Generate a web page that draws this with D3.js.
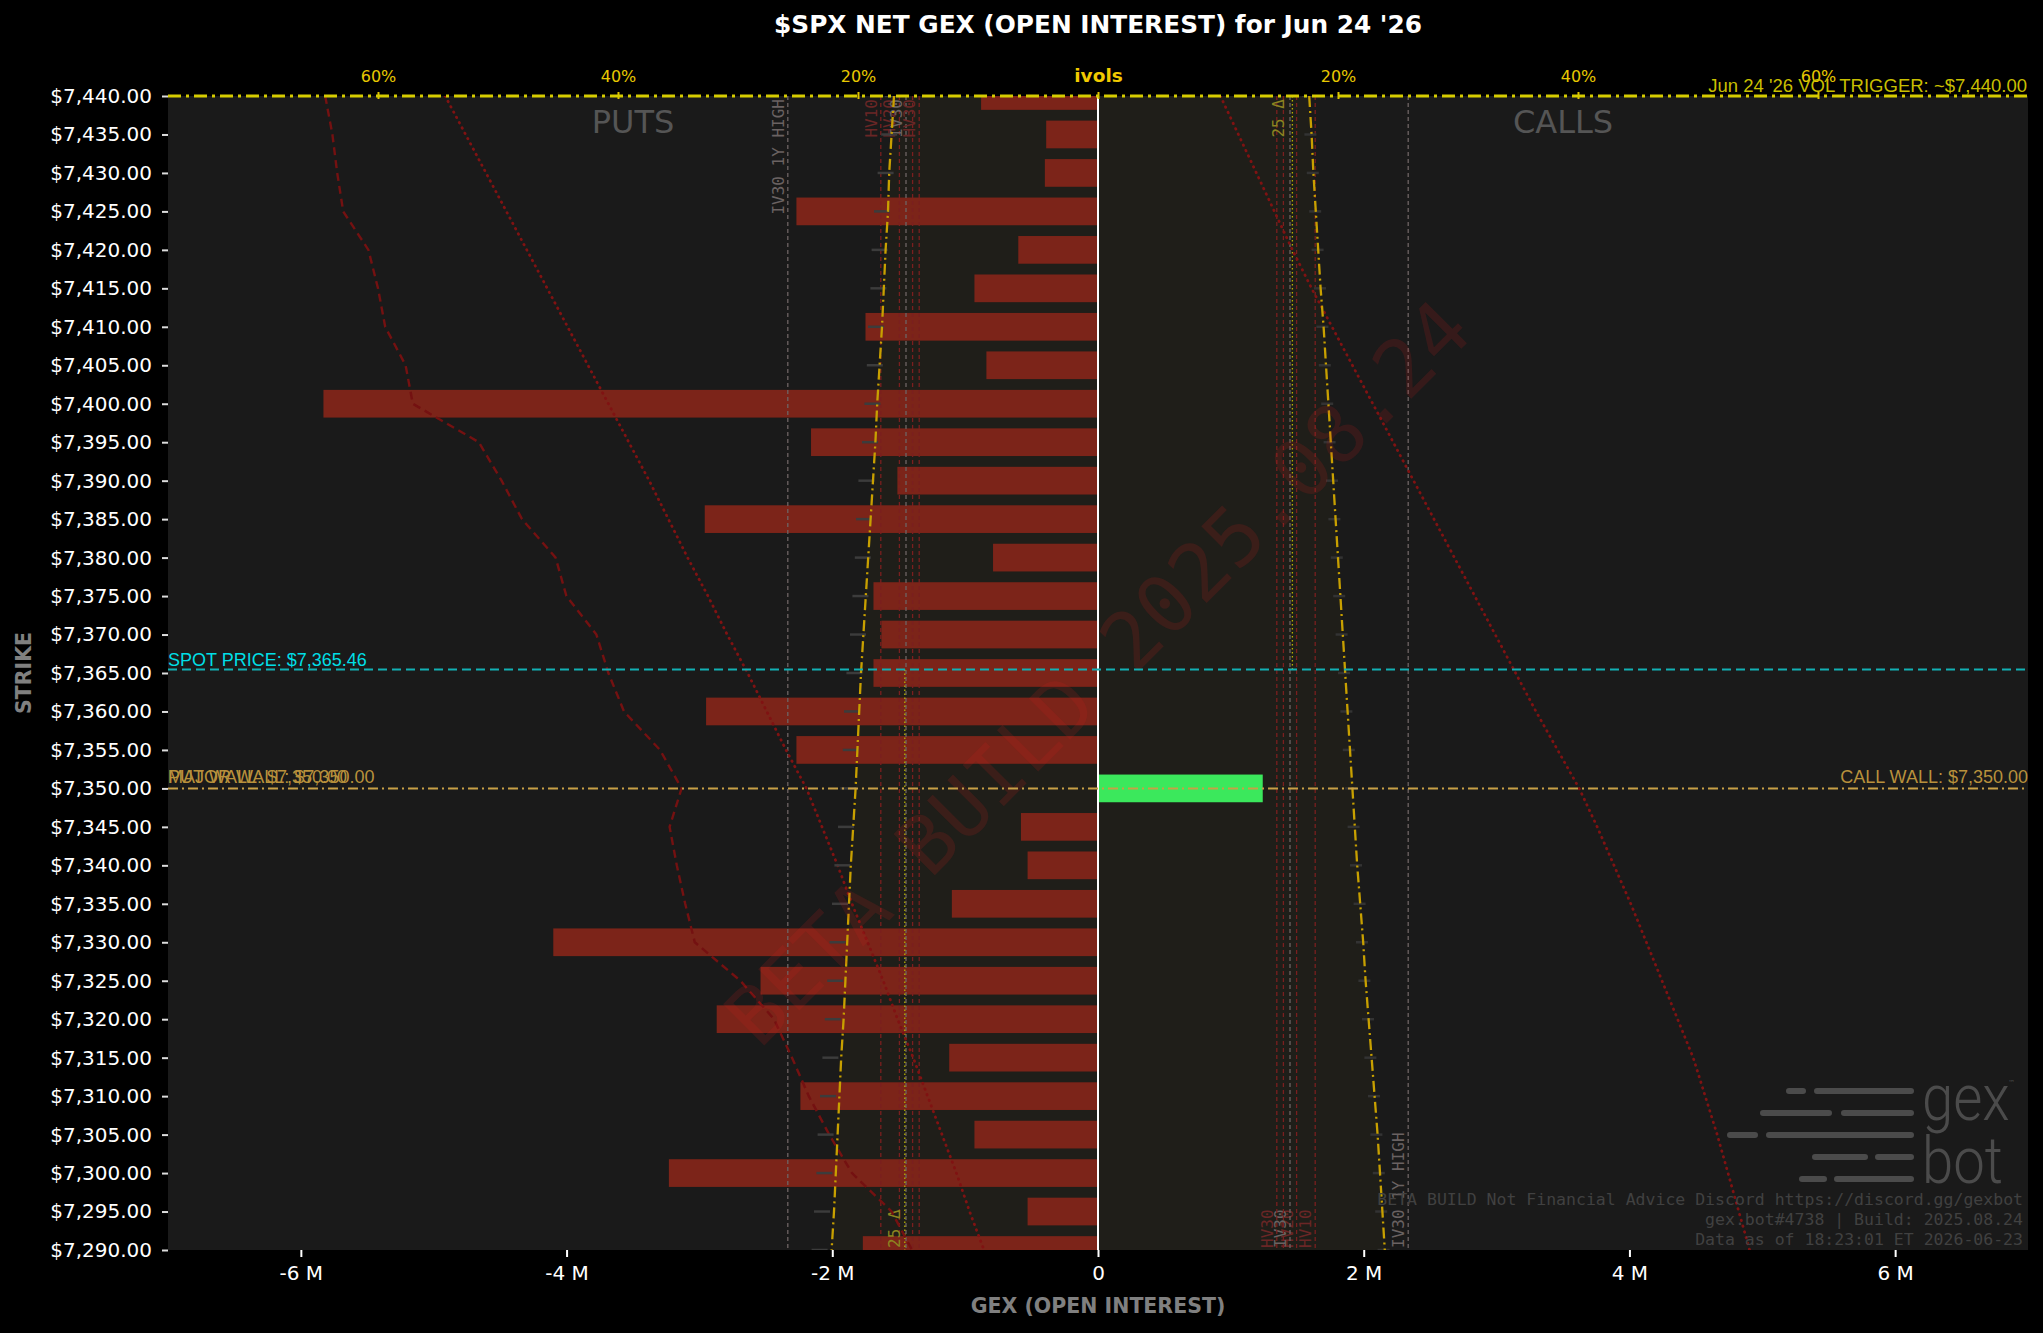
<!DOCTYPE html>
<html>
<head>
<meta charset="utf-8">
<script src="https://cdn.jsdelivr.net/npm/d3@7"></script>
<style>
  body { margin: 0; background: #000; }
  svg { display: block; }
</style>
</head>
<body>
<script>
'use strict';

// strikes, top to bottom
const strikes = [7440, 7435, 7430, 7425, 7420, 7415, 7410, 7405, 7400, 7395, 7390,
  7385, 7380, 7375, 7370, 7365, 7360, 7355, 7350, 7345, 7340, 7335, 7330, 7325,
  7320, 7315, 7310, 7305, 7300, 7295, 7290];

// net gex per strike, millions
const netGex = [-0.88, -0.39, -0.40, -2.27, -0.60, -0.93, -1.75, -0.84, -5.83, -2.16, -1.51,
  -2.96, -0.79, -1.69, -1.63, -1.69, -2.95, -2.27, 1.24, -0.58, -0.53, -1.10, -4.10, -2.54,
  -2.87, -1.12, -2.24, -0.93, -3.23, -0.53, -1.77];

// implied vols (%) per strike
const putIvol = [17.0, 17.2, 17.4, 17.5, 17.7, 17.85, 18.0, 18.2, 18.4, 18.55, 18.75,
  18.95, 19.15, 19.35, 19.55, 19.75, 19.9, 20.05, 20.2, 20.4, 20.6, 20.75, 20.9, 21.05,
  21.2, 21.4, 21.55, 21.7, 21.85, 22.0, 22.2];
const callIvol = [17.6, 17.8, 17.95, 18.15, 18.35, 18.55, 18.8, 19.0, 19.2, 19.4, 19.6,
  19.8, 20.0, 20.2, 20.4, 20.6, 20.8, 21.0, 21.2, 21.4, 21.6, 21.85, 22.1, 22.3,
  22.55, 22.8, 23.05, 23.3, 23.5, 23.7, 23.9];
const putIvolMarks = [17.1, 17.4, 17.7, 18.0, 18.2, 18.3, 18.5, 18.6, 18.8, 19.0, 19.3,
  19.5, 19.6, 19.8, 20.0, 20.3, 20.5, 20.6, 20.8, 21.0, 21.3, 21.5, 21.7, 21.9,
  22.1, 22.3, 22.5, 22.7, 22.8, 23.0, 23.2];
const callIvolMarks = [17.5, 17.7, 17.9, 18.1, 18.3, 18.5, 18.7, 18.9, 19.1, 19.3, 19.5,
  19.7, 19.9, 20.1, 20.3, 20.5, 20.7, 20.9, 21.1, 21.3, 21.5, 21.8, 22.0, 22.2,
  22.5, 22.7, 23.0, 23.2, 23.4, 23.6, 23.8];
const putShortIvol = [64.4, 63.8, 63.4, 62.9, 60.8, 60.0, 59.4, 57.7, 57.1, 51.6, 49.7,
  48.0, 45.2, 44.3, 41.8, 40.8, 39.5, 36.5, 34.7, 35.7, 35.1, 34.4, 33.6, 29.8,
  27.0, 25.5, 24.1, 22.4, 20.5, 17.2, 15.5];
const putSkew = [54.4, 52.7, 51.0, 49.3, 47.6, 45.9, 44.2, 42.5, 40.8, 39.1, 37.4,
  35.8, 34.2, 32.5, 30.9, 29.2, 27.6, 26.0, 24.3, 23.0, 21.7, 20.5, 19.2, 17.9,
  16.7, 15.4, 14.2, 13.0, 11.8, 10.7, 9.5];
const callSkew = [10.2, 11.7, 13.2, 14.7, 16.2, 17.8, 19.5, 21.2, 22.9, 24.6, 26.3,
  28.0, 29.7, 31.4, 33.1, 34.8, 36.5, 38.3, 40.1, 41.6, 43.0, 44.4, 45.7, 47.0,
  48.3, 49.6, 50.6, 51.6, 52.5, 53.4, 54.3];

// reference vol levels (%)
const refNames = ['IV30 1Y HIGH', 'HV10', 'HV20', 'IV30', '', 'HV30'];
const refKinds = ['iv', 'hv', 'hv', 'iv', 'hv', 'hv'];
const refVols = [25.85, 18.1, 16.55, 16.0, 15.45, 14.9];
const delta25Put = 16.1;
const delta25Call = 16.2;

// key levels
const spotPrice = 7365.46;
const wallStrike = 7350;
const volTrigger = 7440;

const xTicks = [-6e6, -4e6, -2e6, 0, 2e6, 4e6, 6e6];
const volTicks = [-60, -40, -20, 0, 20, 40, 60];

const footerLines = [
  'BETA BUILD Not Financial Advice Discord https://discord.gg/gexbot',
  'gex.bot#4738 | Build: 2025.08.24',
  'Data as of 18:23:01 ET 2026-06-23'
];

const W = 2043, H = 1333;
const plot = {left: 168, right: 2028, top: 96, bottom: 1250};
const sans = 'DejaVu Sans, sans-serif';
const mono = 'DejaVu Sans Mono, monospace';
const label = 'Liberation Sans, Arial, sans-serif';

const rows = strikes.map((s, i) => ({
  strike: s, gex: netGex[i] * 1e6,
  put: putIvol[i], call: callIvol[i],
  putMark: putIvolMarks[i], callMark: callIvolMarks[i],
  short: putShortIvol[i], pSkew: putSkew[i], cSkew: callSkew[i]
}));

const x = d3.scaleLinear().domain([-7e6, 7e6]).range([plot.left, plot.right]);
const y = d3.scaleLinear().domain([7290, 7440]).range([plot.bottom, plot.top]);
const vol = d3.scaleLinear().domain([-77.5, 77.5]).range([plot.left, plot.right]);

const svg = d3.select('body').append('svg')
  .attr('width', W)
  .attr('height', H);

svg.append('rect')
  .attr('width', W)
  .attr('height', H)
  .attr('fill', '#000');

svg.append('defs').append('clipPath')
  .attr('id', 'plot-clip')
  .append('rect')
  .attr('x', plot.left)
  .attr('y', plot.top)
  .attr('width', plot.right - plot.left)
  .attr('height', plot.bottom - plot.top);

svg.append('rect')
  .attr('x', plot.left)
  .attr('y', plot.top)
  .attr('width', plot.right - plot.left)
  .attr('height', plot.bottom - plot.top)
  .attr('fill', '#1a1a1a');

const g = svg.append('g').attr('clip-path', 'url(#plot-clip)');

// band between put and call ivol
g.append('path')
  .datum(rows)
  .attr('d', d3.area()
    .y(d => y(d.strike))
    .x0(d => vol(-d.put))
    .x1(d => vol(d.call)))
  .attr('fill', '#ffd700')
  .attr('fill-opacity', 0.025);

// bars
const barHalf = 1.8;
g.selectAll('rect.bar')
  .data(rows)
  .join('rect')
  .attr('class', 'bar')
  .attr('x', d => x(Math.min(0, d.gex)))
  .attr('y', d => y(d.strike + barHalf))
  .attr('width', d => Math.abs(x(d.gex) - x(0)))
  .attr('height', d => y(d.strike - barHalf) - y(d.strike + barHalf))
  .attr('fill', d => d.gex < 0 ? '#7c2419' : '#3be85c');

// reference vol lines, both sides
const refs = refVols.map((v, i) => ({v, name: refNames[i], kind: refKinds[i]}));
[-1, 1].forEach(side => {
  refs.forEach(r => {
    const xv = vol(side * r.v);
    g.append('line')
      .attr('x1', xv).attr('x2', xv)
      .attr('y1', plot.top).attr('y2', plot.bottom)
      .attr('stroke', r.kind === 'iv' ? '#6e6464' : '#7a1f1f')
      .attr('stroke-width', 1.3)
      .attr('stroke-dasharray', '4,3');
    if (!r.name) return;
    const top = side < 0;
    g.append('text')
      .attr('transform', `translate(${xv - 4},${top ? plot.top + 3 : plot.bottom - 2}) rotate(-90)`)
      .attr('text-anchor', top ? 'end' : 'start')
      .attr('font-family', mono)
      .attr('font-size', 16)
      .attr('fill', r.kind === 'iv' ? '#6a6262' : '#6a2626')
      .text(r.name);
  });
});

// 25 delta lines
const spotY = y(spotPrice);
g.append('line')
  .attr('x1', vol(-delta25Put)).attr('x2', vol(-delta25Put))
  .attr('y1', spotY).attr('y2', plot.bottom)
  .attr('stroke', '#b4b000')
  .attr('stroke-width', 1.3)
  .attr('stroke-dasharray', '1.5,2.5');
g.append('line')
  .attr('x1', vol(delta25Call)).attr('x2', vol(delta25Call))
  .attr('y1', plot.top).attr('y2', spotY)
  .attr('stroke', '#b4b000')
  .attr('stroke-width', 1.3)
  .attr('stroke-dasharray', '1.5,2.5');
g.append('text')
  .attr('transform', `translate(${vol(-delta25Put) - 5},${plot.bottom - 2}) rotate(-90)`)
  .attr('font-family', mono)
  .attr('font-size', 16)
  .attr('fill', '#8c8420')
  .text('25 Δ');
g.append('text')
  .attr('transform', `translate(${vol(delta25Call) - 8},${plot.top + 3}) rotate(-90)`)
  .attr('text-anchor', 'end')
  .attr('font-family', mono)
  .attr('font-size', 16)
  .attr('fill', '#8c8420')
  .text('25 Δ');

// skew lines
const skewLine = key => d3.line().x(d => vol(key(d))).y(d => y(d.strike));
[d => -d.pSkew, d => d.cSkew].forEach(key => {
  g.append('path')
    .datum(rows)
    .attr('d', skewLine(key))
    .attr('fill', 'none')
    .attr('stroke', '#801212')
    .attr('stroke-width', 2.8)
    .attr('stroke-linecap', 'round')
    .attr('stroke-dasharray', '0.5,5.5');
});
g.append('path')
  .datum(rows)
  .attr('d', skewLine(d => -d.short))
  .attr('fill', 'none')
  .attr('stroke', '#741111')
  .attr('stroke-width', 2.4)
  .attr('stroke-dasharray', '8,5');

// ivol markers
g.selectAll('line.put-mark')
  .data(rows)
  .join('line')
  .attr('class', 'put-mark')
  .attr('x1', d => vol(-d.putMark) - 8)
  .attr('x2', d => vol(-d.putMark) + 8)
  .attr('y1', d => y(d.strike))
  .attr('y2', d => y(d.strike))
  .attr('stroke', '#3c3c3c')
  .attr('stroke-width', 2.5);
g.selectAll('line.call-mark')
  .data(rows)
  .join('line')
  .attr('class', 'call-mark')
  .attr('x1', d => vol(d.callMark) - 6)
  .attr('x2', d => vol(d.callMark) + 6)
  .attr('y1', d => y(d.strike))
  .attr('y2', d => y(d.strike))
  .attr('stroke', '#333')
  .attr('stroke-width', 2.5);

// ivol curves
[d => -d.put, d => d.call].forEach(key => {
  g.append('path')
    .datum(rows)
    .attr('d', skewLine(key))
    .attr('fill', 'none')
    .attr('stroke', '#c8a000')
    .attr('stroke-width', 2.3)
    .attr('stroke-dasharray', '11,4,2,4');
});

// watermark
g.append('text')
  .attr('transform', `translate(${(plot.left + plot.right) / 2},${(plot.top + plot.bottom) / 2}) rotate(-45)`)
  .attr('text-anchor', 'middle')
  .attr('dominant-baseline', 'central')
  .attr('font-family', mono)
  .attr('font-size', 80)
  .attr('fill', '#d02020')
  .attr('fill-opacity', 0.16)
  .text('BETA BUILD 2025.08.24');

// zero line
g.append('line')
  .attr('x1', x(0)).attr('x2', x(0))
  .attr('y1', plot.top).attr('y2', plot.bottom)
  .attr('stroke', '#fff')
  .attr('stroke-width', 2);

// spot and wall lines
g.append('line')
  .attr('x1', plot.left).attr('x2', plot.right)
  .attr('y1', spotY).attr('y2', spotY)
  .attr('stroke', '#12b0b4')
  .attr('stroke-width', 2)
  .attr('stroke-dasharray', '9,5');
const wallY = y(wallStrike);
g.append('line')
  .attr('x1', plot.left).attr('x2', plot.right)
  .attr('y1', wallY).attr('y2', wallY)
  .attr('stroke', '#c8a046')
  .attr('stroke-width', 2)
  .attr('stroke-dasharray', '10,4,2,4');

// PUTS / CALLS
[['PUTS', -3.5e6], ['CALLS', 3.5e6]].forEach(([t, v]) => {
  g.append('text')
    .attr('x', x(v))
    .attr('y', 133)
    .attr('text-anchor', 'middle')
    .attr('font-family', sans)
    .attr('font-size', 32)
    .attr('fill', '#555')
    .text(t);
});

// gexbot logo
const logo = g.append('g').attr('fill', '#4b4b4b').attr('stroke', '#4b4b4b');
const logoBars = [[1789, 1803, 1091], [1817, 1911, 1091], [1763, 1829, 1113], [1844, 1911, 1113],
  [1730, 1755, 1135], [1769, 1911, 1135], [1815, 1865, 1157], [1878, 1911, 1157],
  [1802, 1824, 1179], [1837, 1911, 1179]];
logo.selectAll('line')
  .data(logoBars)
  .join('line')
  .attr('x1', d => d[0]).attr('x2', d => d[1])
  .attr('y1', d => d[2]).attr('y2', d => d[2])
  .attr('stroke-width', 6)
  .attr('stroke-linecap', 'round');
[['gex', 1120], ['bot', 1183]].forEach(([t, by]) => {
  logo.append('text')
    .attr('transform', `translate(1922,${by}) scale(0.88,1)`)
    .attr('stroke', 'none')
    .attr('font-family', 'Roboto, sans-serif')
    .attr('font-weight', 300)
    .attr('font-size', 64)
    .text(t);
});
logo.append('text')
  .attr('x', 2008).attr('y', 1085)
  .attr('stroke', 'none')
  .attr('font-family', sans)
  .attr('font-size', 7)
  .text('™');

g.selectAll('text.footer')
  .data(footerLines)
  .join('text')
  .attr('class', 'footer')
  .attr('x', 2023)
  .attr('y', (d, i) => 1205 + i * 20)
  .attr('text-anchor', 'end')
  .attr('font-family', mono)
  .attr('font-size', 16.5)
  .attr('fill', '#414141')
  .text(d => d);

// level labels
const levelText = (tx, ty, anchor, color, txt) => svg.append('text')
  .attr('x', tx)
  .attr('y', ty)
  .attr('text-anchor', anchor)
  .attr('font-family', label)
  .attr('font-size', 18)
  .attr('fill', color)
  .text(txt);
const fmtPrice = d3.format('$,.2f');
levelText(plot.left, spotY - 3.5, 'start', '#00dfe6', `SPOT PRICE: ${fmtPrice(spotPrice)}`);
levelText(plot.left, wallY - 5, 'start', '#b8913c', `PUT WALL: ${fmtPrice(wallStrike)}`);
levelText(plot.left, wallY - 5, 'start', '#b8913c', `MAJOR WALL: ${fmtPrice(wallStrike)}`);
levelText(plot.right, wallY - 5, 'end', '#b8913c', `CALL WALL: ${fmtPrice(wallStrike)}`);

// y axis
const yAxis = svg.append('g')
  .attr('transform', `translate(${plot.left},0)`)
  .call(d3.axisLeft(y).tickValues(strikes).tickFormat(fmtPrice).tickSize(6).tickPadding(10));
yAxis.select('.domain').remove();
yAxis.selectAll('line').attr('stroke', '#ddd').attr('stroke-width', 2);
yAxis.selectAll('text')
  .attr('fill', '#fff')
  .attr('font-family', sans)
  .attr('font-size', 20);

// x axis
const xAxis = svg.append('g')
  .attr('transform', `translate(0,${plot.bottom})`)
  .call(d3.axisBottom(x).tickValues(xTicks)
    .tickFormat(d => d === 0 ? '0' : `${d / 1e6} M`).tickSize(7).tickPadding(9));
xAxis.select('.domain').remove();
xAxis.selectAll('line').attr('stroke', '#fff').attr('stroke-width', 2);
xAxis.selectAll('text')
  .attr('fill', '#fff')
  .attr('font-family', sans)
  .attr('font-size', 20);

// top vol axis
const vAxis = svg.append('g')
  .attr('transform', `translate(0,${plot.top + 3})`)
  .call(d3.axisTop(vol).tickValues(volTicks)
    .tickFormat(d => d === 0 ? 'ivols' : `${Math.abs(d)}%`).tickSize(7).tickPadding(10));
vAxis.select('.domain').remove();
vAxis.selectAll('line').attr('stroke', '#e0c400').attr('stroke-width', 2);
vAxis.selectAll('text')
  .attr('fill', '#e8c800')
  .attr('font-family', sans)
  .attr('font-size', 16);
vAxis.selectAll('text')
  .filter(d => d === 0)
  .attr('font-size', 18.5)
  .attr('font-weight', 'bold')
  .attr('fill', '#f2ca00');

// vol trigger line at the top edge
const trigY = y(volTrigger);
svg.append('line')
  .attr('x1', plot.left).attr('x2', plot.right)
  .attr('y1', trigY).attr('y2', trigY)
  .attr('stroke', '#d6cc00')
  .attr('stroke-width', 3)
  .attr('stroke-dasharray', '13,5,3,5');
svg.append('text')
  .attr('x', plot.right - 1)
  .attr('y', trigY - 4)
  .attr('text-anchor', 'end')
  .attr('font-family', label)
  .attr('font-size', 18.5)
  .attr('fill', '#c8bf00')
  .text(`Jun 24 '26 VOL TRIGGER: ~${fmtPrice(volTrigger)}`);

// titles
svg.append('text')
  .attr('x', (plot.left + plot.right) / 2)
  .attr('y', 33)
  .attr('text-anchor', 'middle')
  .attr('font-family', sans)
  .attr('font-weight', 'bold')
  .attr('font-size', 24.8)
  .attr('fill', '#fff')
  .text("$SPX NET GEX (OPEN INTEREST) for Jun 24 '26");
svg.append('text')
  .attr('x', (plot.left + plot.right) / 2)
  .attr('y', 1313)
  .attr('text-anchor', 'middle')
  .attr('font-family', sans)
  .attr('font-weight', 'bold')
  .attr('font-size', 20.5)
  .attr('fill', '#808080')
  .text('GEX (OPEN INTEREST)');
svg.append('text')
  .attr('transform', `translate(31,${(plot.top + plot.bottom) / 2}) rotate(-90)`)
  .attr('text-anchor', 'middle')
  .attr('font-family', sans)
  .attr('font-weight', 'bold')
  .attr('font-size', 20.5)
  .attr('fill', '#808080')
  .text('STRIKE');
</script>
</body>
</html>
